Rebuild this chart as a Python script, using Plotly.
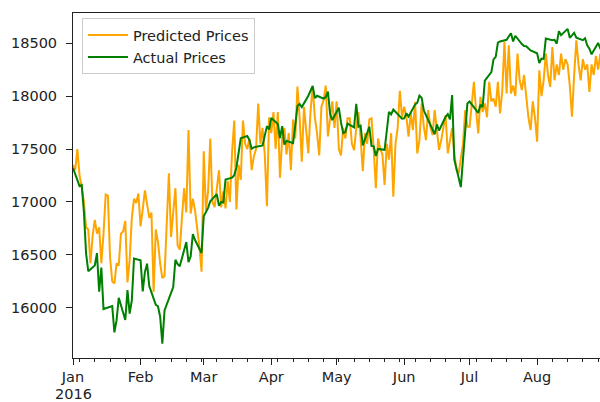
import pandas as pd
import plotly.graph_objects as go

# ---- Data -------------------------------------------------------------
holidays = ["2016-01-18", "2016-02-15", "2016-03-25", "2016-05-30", "2016-07-04"]
actual_dates = [pd.Timestamp("2016-01-01")] + [
    d for d in pd.bdate_range("2016-01-04", "2016-08-31") if d.strftime("%Y-%m-%d") not in holidays
]

actual_jan = [17320, 17149, 17159, 16907, 16514, 16346, 16399, 16516, 16151, 16379,
              15988, 16016, 15767, 15883, 16094, 15885, 16167, 15944, 16070, 16466]
actual_feb = [16449, 16154, 16337, 16417, 16205, 16027, 16014, 15915, 15660, 15974,
              16196, 16454, 16413, 16392, 16621, 16432, 16485, 16697, 16640, 16517]
actual_mar = [16865, 16899, 16944, 17007, 17074, 16964, 17000, 16995, 17213, 17229, 17252,
              17326, 17481, 17602, 17624, 17583, 17503, 17516, 17535, 17633, 17717, 17685]
actual_apr = [17793, 17737, 17603, 17716, 17542, 17577, 17556, 17721, 17908, 17926, 17897,
              18004, 18054, 18096, 17983, 18004, 17977, 17990, 18042, 17831, 17774]
actual_may = [17891, 17751, 17651, 17661, 17741, 17706, 17928, 17711, 17721, 17535, 17711,
              17530, 17527, 17435, 17501, 17493, 17706, 17852, 17828, 17873, 17787]
actual_jun = [17790, 17839, 17807, 17920, 17938, 18005, 17985, 17865, 17732, 17675, 17640,
              17733, 17675, 17805, 17830, 17781, 18011, 17401, 17140, 17410, 17695, 17930]
actual_jul = [17949, 17841, 17919, 17896, 18147, 18227, 18348, 18372, 18506, 18517,
              18533, 18559, 18595, 18517, 18571, 18493, 18474, 18472, 18456, 18432]
actual_aug = [18405, 18314, 18355, 18352, 18544, 18529, 18533, 18496, 18614, 18576, 18636, 18552,
              18574, 18598, 18553, 18529, 18547, 18481, 18448, 18395, 18503, 18454, 18401]

pred_dates = pd.date_range("2016-01-01", "2016-08-31", freq="D")
pred_jan = [17350, 17300, 17500, 17250, 17140, 17000, 16760, 16740, 16420, 16680,
            16830, 16700, 16760, 16420, 16700, 17070, 17060, 16480, 16250, 16230,
            16420, 16400, 16700, 16720, 16820, 16240, 16450, 16850, 17030, 16990, 17080]
pred_feb = [16770, 16930, 17110, 16980, 16850, 16900, 16150, 16740, 16620, 16420,
            16280, 16300, 16770, 17270, 16670, 16900, 17130, 16590, 16550, 16850,
            17130, 16900, 17680, 16890, 17030, 16920, 16750, 16580, 16340]
pred_mar = [17480, 16920, 17100, 17600, 17000, 16950, 17150, 17300, 16950, 17100,
            16940, 17200, 17000, 17470, 17770, 16930, 17350, 17210, 17770, 17550,
            17500, 17600, 17300, 17430, 17500, 17930, 17550, 17700, 17450, 16960, 17800]
pred_apr = [17650, 17850, 17500, 17850, 17230, 17600, 17700, 17450, 17650, 17300,
            17780, 17600, 18090, 17800, 17380, 17900, 17700, 17460, 17850, 18090,
            17800, 17650, 17440, 17900, 17960, 18100, 17620, 17800, 17950, 17700]
pred_may = [17950, 17500, 17440, 17700, 17600, 17790, 17790, 17550, 17490, 17700,
            17850, 17600, 17290, 17650, 17550, 17780, 17790, 17500, 17130, 17600,
            17500, 17450, 17160, 17550, 17400, 17650, 17050, 17550, 17700, 18050, 17800]
pred_jun = [17900, 17805, 17617, 17837, 17680, 17947, 17459, 17585, 17931, 17711,
            17585, 17868, 17711, 17632, 17868, 17648, 17491, 17585, 17711, 17820,
            17460, 17600, 17700, 17459, 17302, 17270, 17396, 17554, 17868, 17711]
pred_jul = [17711, 17900, 18135, 17860, 17648, 17994, 17850, 17931, 17800, 18135,
            17950, 17978, 17900, 18135, 17836, 18050, 18513, 18025, 18481, 18025,
            18100, 18000, 18403, 18150, 18057, 18200, 18000, 17800, 17680, 17950, 17800]
pred_aug = [17570, 18245, 18000, 18150, 18403, 18200, 18088, 18465, 18150, 18300,
            18200, 18403, 18250, 18350, 18300, 18100, 17805, 18200, 18528, 18300,
            18150, 18350, 18250, 18300, 18041, 18300, 18200, 18380, 18250, 18400, 18350]

month_ticks = ["2016-01-01", "2016-02-01", "2016-03-01", "2016-04-01",
               "2016-05-01", "2016-06-01", "2016-07-01", "2016-08-01"]
month_labels = ["Jan", "Feb", "Mar", "Apr", "May", "Jun", "Jul", "Aug"]
year_label = "2016"
y_ticks = [16000, 16500, 17000, 17500, 18000, 18500]

actual = actual_jan + actual_feb + actual_mar + actual_apr + actual_may + actual_jun + actual_jul + actual_aug
predicted = pred_jan + pred_feb + pred_mar + pred_apr + pred_may + pred_jun + pred_jul + pred_aug

# ---- Figure -----------------------------------------------------------
fig = go.Figure()
fig.add_trace(go.Scatter(x=list(pred_dates), y=predicted, mode="lines",
                         name="Predicted Prices", line=dict(color="orange", width=2)))
fig.add_trace(go.Scatter(x=actual_dates, y=actual, mode="lines",
                         name="Actual Prices", line=dict(color="green", width=2)))

font = dict(family="DejaVu Sans", size=14.5, color="#222")
fig.update_layout(
    width=600, height=402,
    margin=dict(l=73, r=0, t=13, b=44, autoexpand=False),
    paper_bgcolor="white", plot_bgcolor="white",
    font=font,
    showlegend=True,
    legend=dict(x=0.017, y=0.985, xanchor="left", yanchor="top",
                bgcolor="rgba(255,255,255,0.8)", bordercolor="#cccccc", borderwidth=1,
                font=font, itemwidth=40, tracegroupgap=0),
)
fig.add_annotation(x=month_ticks[0], y=0, xref="x", yref="paper", yshift=-26,
                   text=year_label, showarrow=False, xanchor="center", yanchor="top",
                   font=font)
fig.update_xaxes(
    type="date", automargin=False,
    range=["2016-01-01", "2016-08-29 20:40"],
    tickvals=month_ticks, ticktext=month_labels,
    ticks="outside", ticklen=6, tickcolor="#222", tickwidth=1,
    minor=dict(ticks="outside", ticklen=3, tickcolor="#222", tickwidth=1,
               dtick=7 * 86400000, tick0="2016-01-04", showgrid=False),
    showline=True, linecolor="#222", linewidth=1, mirror=True,
    showgrid=False, zeroline=False, tickfont=font,
)
fig.update_yaxes(
    automargin=False,
    range=[15525, 18786],
    tickvals=y_ticks, ticktext=[str(v) for v in y_ticks],
    ticks="outside", ticklen=6, tickcolor="#222", tickwidth=1, ticklabelstandoff=6,
    showline=True, linecolor="#222", linewidth=1, mirror=False,
    showgrid=False, zeroline=False, tickfont=font,
)

fig.write_html("out.html", config={"displayModeBar": False},
               post_script="document.body.style.margin='0px';document.body.style.overflow='hidden';")
